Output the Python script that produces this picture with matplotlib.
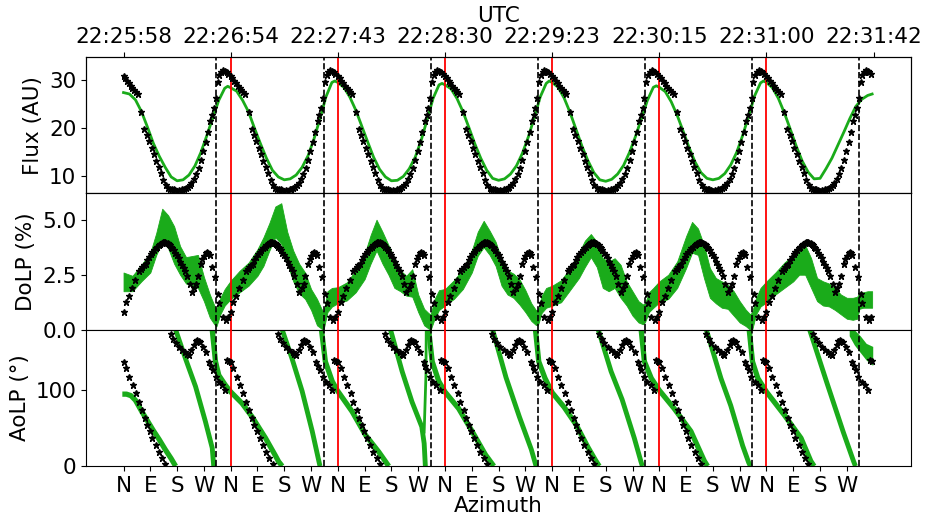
import numpy as np
import matplotlib
matplotlib.use('Agg')
from matplotlib import pyplot as plt

# azimuth is counted cumulatively, one full turn (360 deg) per rotation
cycle_start = [0, 360, 720, 1080, 1440, 1800, 2160]
dashed_az = [312, 672, 1032, 1392, 1752, 2112, 2472]
red_az = [360, 720, 1080, 1440, 1800, 2160]
utc_az = [0, 360, 720, 1080, 1440, 1800, 2160, 2520]
utc_labels = ['22:25:58', '22:26:54', '22:27:43', '22:28:30',
              '22:29:23', '22:30:15', '22:31:00', '22:31:42']
compass = ['N', 'E', 'S', 'W']

# ---- Flux: measured (green line), per rotation ----
flux_grid = [0, 20, 40, 60, 80, 100, 120, 140, 160, 180, 200, 220, 240, 260, 280, 300, 320, 340, 350, 355]
flux_green = [
    [27.4, 27.1, 25.9, 23.5, 20.3, 16.9, 14.2, 11.9, 9.9, 9.1, 9.3, 10.3, 12.2, 15.0, 18.5, 22.2, 25.8, 28.3, 28.7],
    [28.4, 27.7, 25.8, 23.4, 20.0, 16.8, 13.8, 11.3, 9.9, 9.3, 9.5, 10.3, 11.9, 14.3, 17.8, 22.0, 26.5, 29.5, 29.8],
    [29.5, 28.5, 26.5, 23.8, 20.5, 17.2, 14.0, 11.5, 9.9, 9.1, 9.2, 10.0, 11.6, 14.0, 17.5, 21.8, 26.2, 29.0, 29.3],
    [29.0, 28.2, 26.2, 23.5, 20.2, 16.8, 13.8, 11.3, 9.6, 9.2, 9.5, 10.5, 12.2, 14.8, 18.2, 22.2, 26.5, 29.3, 29.8],
    [29.5, 28.5, 26.3, 23.3, 19.8, 16.3, 13.3, 10.8, 9.3, 9.0, 9.4, 10.5, 12.3, 15.0, 18.3, 22.0, 25.8, 28.5, 28.8],
    [28.5, 27.6, 25.5, 22.7, 19.4, 16.0, 13.0, 10.8, 9.6, 9.3, 9.6, 10.6, 12.4, 15.0, 18.5, 22.5, 26.7, 29.4, 29.8],
    [29.5, 28.4, 26.2, 23.2, 19.8, 16.3, 13.2, 10.9, 9.5, 9.6, 11.6, 13.8, 16.5, 19.2, 22.0, 24.5, 26.0, 26.8, 27.0, 27.1],
]

# ---- Flux: model (stars), one rotation ----
flux_star_d = [0, 6, 12, 18, 24, 30, 36, 42, 48, 60, 70, 78, 86, 94, 102, 110, 118, 126, 134, 142,
               150, 156, 162, 168, 174, 180, 186, 192, 198, 204, 210, 216, 222, 228, 236, 244, 252,
               260, 268, 276, 284, 292, 298, 304, 310, 316, 322, 328, 334, 340, 346, 352]
flux_star_v = [30.9, 30.4, 29.9, 29.3, 28.8, 28.3, 27.9, 27.5, 27.1, 23.4, 19.8, 18.6, 17.3, 16.0,
               14.6, 13.3, 12.0, 10.7, 9.3, 8.3, 7.7, 7.4, 7.3, 7.4, 7.2, 7.0, 7.1, 7.0, 7.3, 7.4,
               7.6, 7.9, 8.2, 8.6, 9.4, 10.5, 11.8, 13.5, 15.3, 17.2, 19.3, 21.4, 22.8, 24.3, 26.2,
               29.5, 31.0, 31.7, 32.0, 31.9, 31.6, 31.2]

# ---- DoLP: measured band (upper / lower edge), per rotation ----
dolp_grid = [0, 30, 60, 90, 110, 130, 150, 170, 190, 210, 230, 250, 270, 290, 305, 312, 325, 340, 355]
dolp_upper = [
    [2.6, 2.45, 2.95, 3.5, 4.4, 5.5, 5.2, 4.7, 3.8, 3.3, 3.35, 3.4, 2.4, 1.6, 1.1, 0.95, 1.45, 1.85],
    [2.23, 2.68, 3.05, 3.66, 4.2, 4.85, 5.6, 5.75, 4.45, 3.6, 3.0, 2.6, 1.85, 1.4, 0.95, 0.8, 1.75, 1.9],
    [1.93, 2.15, 2.7, 3.45, 4.3, 5.0, 4.45, 3.85, 3.25, 2.7, 2.45, 2.75, 1.6, 0.95, 0.75, 0.7, 1.4, 1.8],
    [1.85, 2.25, 2.75, 3.6, 4.45, 4.95, 4.5, 4.0, 3.2, 2.7, 2.55, 2.3, 1.8, 1.2, 0.9, 0.9, 1.55, 1.9],
    [2.0, 2.25, 2.8, 3.5, 4.05, 4.35, 4.0, 3.25, 3.1, 3.25, 2.95, 2.2, 1.75, 1.3, 1.15, 1.2, 1.7, 1.9],
    [2.2, 2.5, 3.1, 4.25, 4.9, 4.6, 3.85, 2.8, 2.35, 2.2, 2.05, 1.75, 1.3, 0.92, 0.7, 0.8, 1.45, 1.9],
    [2.2, 2.6, 3.05, 3.4, 3.7, 3.85, 3.25, 2.35, 2.2, 2.1, 1.9, 1.6, 1.45, 1.45, 1.5, 1.7, 1.7, 1.75, 1.75],
]
dolp_lower = [
    [1.75, 1.75, 2.2, 2.6, 3.4, 4.0, 3.7, 3.0, 2.5, 2.1, 2.0, 1.9, 1.3, 0.55, 0.25, 0.15, 0.7, 1.1],
    [1.39, 1.7, 2.0, 2.45, 2.9, 3.6, 4.2, 3.9, 3.0, 2.2, 1.65, 1.4, 0.9, 0.2, 0.05, 0.0, 0.8, 1.05],
    [1.2, 1.33, 1.7, 2.3, 3.0, 3.6, 3.0, 2.5, 1.9, 1.75, 1.55, 1.5, 0.8, 0.2, 0.05, 0.0, 0.5, 0.9],
    [1.1, 1.4, 1.85, 2.6, 3.36, 3.75, 3.4, 2.9, 2.0, 1.6, 1.45, 1.15, 0.8, 0.4, 0.22, 0.2, 0.77, 1.0],
    [1.09, 1.25, 1.8, 2.35, 2.85, 3.3, 2.85, 1.9, 1.75, 1.9, 1.45, 1.1, 0.64, 0.33, 0.25, 0.35, 0.8, 1.0],
    [1.24, 1.4, 1.9, 2.8, 3.5, 3.4, 2.35, 1.45, 1.2, 1.0, 0.95, 0.64, 0.33, 0.17, 0.0, 0.0, 0.7, 1.06],
    [1.24, 1.6, 1.9, 2.2, 2.5, 2.5, 1.9, 1.3, 1.1, 1.06, 0.9, 0.7, 0.5, 0.45, 0.5, 0.95, 1.0, 1.0, 1.0],
]

# ---- DoLP: model (stars), one rotation ----
dolp_star_d = [0, 9, 18, 29, 40, 52, 58, 63, 69, 74, 80, 85, 91, 97, 102, 108, 114, 119, 124, 128,
               132, 136, 140, 144, 148, 152, 156, 160, 164, 169, 174, 180, 186, 191, 197, 202, 208,
               214, 222, 230, 238, 245, 251, 259, 265, 270, 276, 281, 285, 289, 296, 306, 317, 322,
               333, 345, 352]
dolp_star_v = [0.8, 1.25, 1.55, 1.9, 2.25, 2.65, 2.78, 2.85, 2.92, 3.0, 3.15, 3.3, 3.42, 3.52, 3.62,
               3.7, 3.78, 3.85, 3.9, 3.94, 3.97, 3.98, 3.97, 3.95, 3.92, 3.88, 3.83, 3.78, 3.72, 3.62,
               3.5, 3.38, 3.25, 3.1, 2.95, 2.8, 2.65, 2.45, 2.1, 1.72, 1.88, 2.1, 2.45, 3.0, 3.2, 3.35,
               3.5, 3.52, 3.48, 3.4, 2.85, 2.4, 1.63, 1.2, 0.57, 0.42, 0.6]

# ---- AoLP: measured branches (wrap at 0/180 deg), per rotation ----
aolp_a_d = [
    [-4, 10, 25, 40, 60, 80, 100, 120, 140, 160, 175],
    [-62, -51, -40, -18, 0, 38, 72, 117, 150, 161, 173],
    [-55, -42, -19, -2, 48, 93, 137, 171],
    [-55, -43, -21, 0, 46, 91, 136, 164],
    [-56, -45, -24, 0, 40, 80, 120, 145, 158],
    [-61, -50, -27, 0, 50, 106, 151, 162],
    [-58, -47, -29, 0, 60, 116, 149, 160],
]
aolp_a_v = [
    [95, 95, 93, 87, 73, 60, 47, 35, 22, 10, 0],
    [180, 138, 120, 107, 98, 83, 65, 37, 14, 6, 0],
    [180, 138, 112, 100, 72, 41, 19, 0],
    [180, 138, 112, 98, 76, 46, 15, 0],
    [180, 138, 116, 97, 78, 55, 25, 8, 0],
    [180, 138, 116, 100, 76, 46, 7, 0],
    [180, 138, 116, 98, 67.5, 37, 6.5, 0],
]
aolp_b_d = [
    [175, 208, 242, 275, 298, 303],
    [173, 206, 240, 274, 296, 300],
    [177, 216, 249, 271, 282, 290, 294],
    [160, 205, 250, 290, 306],
    [155, 198, 235, 276, 298, 303],
    [158, 207, 240, 280, 300, 306],
    [145, 203, 258, 293, 299],
]
aolp_b_v = [
    [180, 142, 105, 59, 24, 0],
    [180, 142, 99, 46, 7, 0],
    [180, 125, 85, 63, 52, 30, 0],
    [180, 117, 65, 22, 0],
    [180, 125, 88, 37, 6.5, 0],
    [180, 116, 80, 27, 5, 0],
    [180, 110, 45, 6, 0],
]
# narrow spike at the end of rotation 3 and the last patch after the final W
spike_az = [1010, 1016, 1017]
spike_v = [45, 120, 180]
end_az = [2438, 2455, 2475, 2495, 2517]
end_upper = [180, 180, 172, 162, 158]
end_lower = [172, 160, 150, 140, 133]

# ---- AoLP: model (stars), one rotation ----
aolp_star_d = [0, 9, 20, 31, 43, 52, 63, 72, 80, 88, 97, 108, 119, 130, 141, 158, 166, 175, 186,
               197, 208, 214, 219, 228, 236, 242, 247, 252, 258, 266, 277, 288, 294, 300, 309, 320,
               331, 342, 348, 354]
aolp_star_v = [137, 130, 118, 107, 96, 85, 74, 64, 54, 46, 37, 28, 19, 10.5, 2.6, 175, 168, 163,
               157, 153, 150, 148, 146, 153, 160, 165, 166, 165.5, 164, 157.5, 150, 138, 132, 127,
               118, 111, 107, 100, 140, 139]

green = '#1aab1a'
plt.rcParams['font.size'] = 15.5

fig, axes = plt.subplots(3, 1, sharex=True, figsize=(9.25, 5.22), dpi=100)
fig.subplots_adjust(left=0.093, right=0.985, top=0.891, bottom=0.107, hspace=0)
ax1, ax2, ax3 = axes

# flux
fx, fy = [], []
for k, vals in enumerate(flux_green):
    fx += [cycle_start[k] + d for d in flux_grid[:len(vals)]]
    fy += vals
ax1.plot(fx, fy, color=green, lw=2, zorder=2)

# dolp
dx, dlo, dhi = [], [], []
for k in range(len(cycle_start)):
    n = len(dolp_upper[k])
    dx += [cycle_start[k] + d for d in dolp_grid[:n]]
    dhi += dolp_upper[k]
    dlo += dolp_lower[k]
ax2.fill_between(dx, dlo, dhi, color=green, lw=0.6, edgecolor=green, zorder=2)

# aolp
for k in range(len(cycle_start)):
    ax3.plot([cycle_start[k] + d for d in aolp_a_d[k]], aolp_a_v[k], color=green, lw=3.8,
             solid_capstyle='butt', zorder=2)
    ax3.plot([cycle_start[k] + d for d in aolp_b_d[k]], aolp_b_v[k], color=green, lw=3.5,
             solid_capstyle='butt', zorder=2)
ax3.plot(spike_az, spike_v, color=green, lw=2, zorder=2)
ax3.fill_between(end_az, end_lower, end_upper, color=green, lw=0, zorder=2)

# model stars
for c in cycle_start:
    ax1.plot([c + d for d in flux_star_d], flux_star_v, ls='none', marker='*', ms=5,
             color='black', zorder=4)
    ax2.plot([c + d for d in dolp_star_d], dolp_star_v, ls='none', marker='*', ms=5,
             color='black', zorder=4)
    ax3.plot([c + d for d in aolp_star_d], aolp_star_v, ls='none', marker='*', ms=5,
             color='black', zorder=4)

for ax in axes:
    for a in dashed_az:
        ax.axvline(a, color='black', ls='--', lw=1.2, zorder=3)
    for a in red_az:
        ax.axvline(a, color='red', lw=1.3, zorder=3)

ax1.set_xlim(-126, 2646)
ax1.set_ylim(6.5, 34.8)
ax1.set_yticks([10, 20, 30])
ax1.set_ylabel('Flux (AU)')
ax2.set_ylim(0, 6.2)
ax2.set_yticks([0.0, 2.5, 5.0])
ax2.set_ylabel('DoLP (%)')
ax3.set_ylim(0, 180)
ax3.set_yticks([0, 100])
ax3.set_ylabel('AoLP (°)')

ax3.set_xticks([c + d for c in cycle_start for d in (0, 90, 180, 270)])
ax3.set_xticklabels(compass * len(cycle_start))
ax3.set_xlabel('Azimuth', labelpad=0)

top = ax1.twiny()
top.set_xlim(ax1.get_xlim())
top.set_xticks(utc_az)
top.set_xticklabels(utc_labels)
top.set_xlabel('UTC')

fig.savefig('out.png', dpi=100)
